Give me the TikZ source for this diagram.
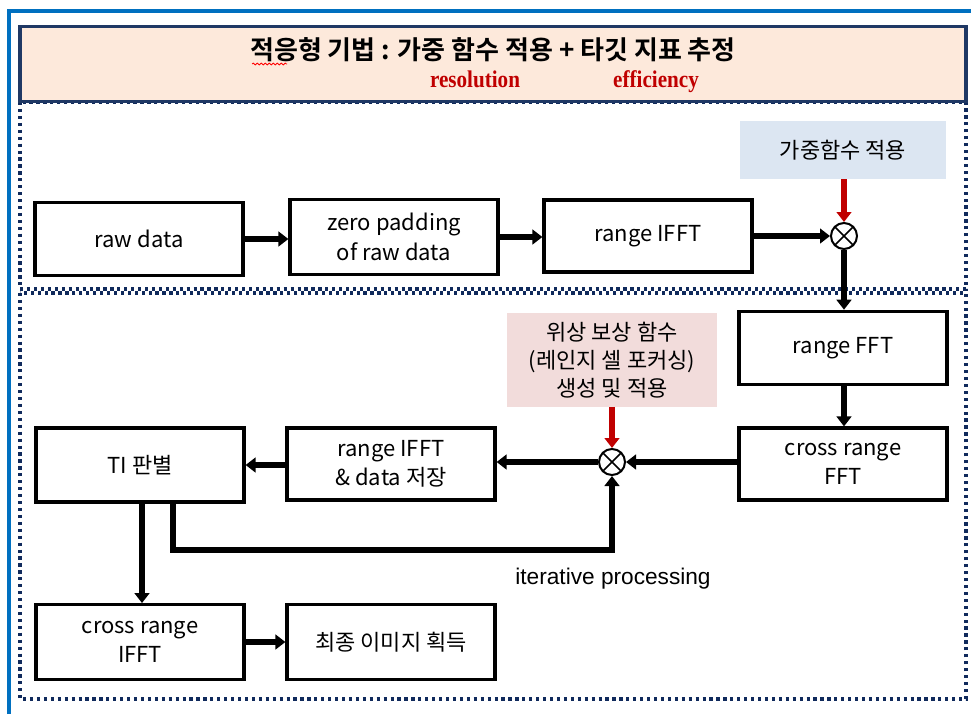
\documentclass[tikz,border=0pt]{standalone}
\usepackage{fontspec}
\setmainfont{Noto Sans CJK KR}[BoldFont={Noto Sans CJK KR Bold}]
\newfontfamily\arialfont{Liberation Sans}
\newfontfamily\timesfont{Liberation Serif}
\usetikzlibrary{arrows.meta,decorations.pathmorphing}

\definecolor{framefill}{HTML}{FDE9DB}
\definecolor{navy}{HTML}{1F3864}
\definecolor{dotnavy}{HTML}{102A5C}
\definecolor{outerblue}{HTML}{0070C0}
\definecolor{darkred}{HTML}{C00000}
\definecolor{weightfill}{HTML}{DCE6F2}
\definecolor{phasefill}{HTML}{F2DCDB}

\tikzset{
  stagebox/.style={draw, line width=2.4pt, fill=white, minimum width=156pt,
    minimum height=55pt, align=center, inner sep=0pt,
    font=\fontsize{16.5}{22}\selectfont},
  notebox/.style={fill=#1, align=center, inner sep=0pt,
    font=\fontsize{16.5}{21}\selectfont},
  flow/.style={line width=4.5pt, -{Triangle[length=7.5pt,width=11pt]}},
  redflow/.style={flow, draw=darkred},
  mult/.style={circle, draw, line width=1.5pt, minimum size=19.5pt, inner sep=0pt, fill=white,
    path picture={
      \draw[line width=1.2pt]
        ([xshift=-6.5pt,yshift=-6.5pt]path picture bounding box.center) --
        ([xshift=6.5pt,yshift=6.5pt]path picture bounding box.center)
        ([xshift=-6.5pt,yshift=6.5pt]path picture bounding box.center) --
        ([xshift=6.5pt,yshift=-6.5pt]path picture bounding box.center);}},
  dotframe/.style={draw=dotnavy, line width=2.8pt, dash pattern=on 2.4pt off 2.8pt},
  accent/.style={font=\timesfont\bfseries\fontsize{18}{18}\selectfont, text=darkred,
    inner sep=0pt, anchor=base}
}

\begin{document}
\begin{tikzpicture}[x=0.75pt,y=-0.75pt]
\useasboundingbox (0,0) rectangle (971,714);

% outer frame
\draw[outerblue, line width=2.4pt] (9,714) -- (9,11) -- (971,11);

% dotted regions
\draw[dotframe] (20,102) rectangle (966,289);
\draw[dotframe] (20,293) rectangle (966,699);

% header
\node[draw=navy, line width=2.6pt, fill=framefill, minimum width=709.5pt,
      minimum height=56pt, inner sep=0pt] (header) at (493,64) {};
\node[font=\fontsize{19.5}{20}\selectfont\bfseries, inner sep=0pt] (title) at (493,50)
  {적응형 기법 : 가중 함수 적용 + 타깃 지표 추정};
\draw[red, line width=0.6pt, decorate,
      decoration={snake, amplitude=0.7pt, segment length=3pt}] (252,64) -- (287,64);
\node[accent] (res) at (475,87) {\scalebox{0.88}[1]{resolution}};
\node[accent] (eff) at (656,87) {\scalebox{0.88}[1]{efficiency}};

% upper chain
\node[stagebox] (raw) at (139,239) {raw data};
\node[stagebox, minimum height=56pt] (zero) at (394,237) {zero padding\\of raw data};
\node[stagebox, minimum height=54pt] (rifft) at (648,236) {range IFFT};
\node[notebox=weightfill, minimum width=154.5pt, minimum height=43.5pt] (weight) at (843,150) {가중함수 적용};
\node[mult] (m1) at (844,236) {};

% right column
\node[stagebox] (rfft) at (843,348) {range FFT};
\node[stagebox, minimum height=54pt] (crfft) at (843,464) {cross range\\FFT};

% phase compensation
\node[notebox=phasefill, minimum width=157.5pt, minimum height=70pt] (phase) at (612,360)
  {위상 보상 함수\\(레인지 셀 포커싱)\\생성 및 적용};
\node[mult] (m2) at (612,462) {};

% lower chain
\node[stagebox, minimum height=54pt] (store) at (391,464) {range IFFT\\\& data 저장};
\node[stagebox, minimum height=55.5pt] (ti) at (140,465) {TI 판별};
\node[stagebox, minimum height=56pt] (crifft) at (140,642) {cross range\\IFFT};
\node[stagebox, minimum height=56pt] (final) at (391,642) {최종 이미지 획득};

\coordinate (loop) at (173,550);
\coordinate (down) at (142,502);
\node[font=\arialfont\fontsize{17}{18}\selectfont] (iter) at (613,579) {iterative processing};

% connectors
\draw[flow] (raw) -- (zero.west |- raw);
\draw[flow] (zero) -- (rifft.west |- zero);
\draw[flow] (rifft.east |- m1) -- (m1);
\draw[redflow] (weight.south -| m1) -- (m1);
\draw[flow] (m1) -- (rfft.north -| m1);
\draw[flow] (rfft.south -| m1) -- (crfft.north -| m1);
\draw[flow] (crfft.west |- m2) -- (m2);
\draw[redflow] (phase.south -| m2) -- (m2);
\draw[flow] (m2) -- (store.east |- m2);
\draw[flow] (store.west |- ti) -- (ti.east);
\draw[flow] (ti.south -| loop) -- (loop) -| (m2);
\draw[flow] (ti.south -| down) -- (crifft.north -| down);
\draw[flow] (crifft) -- (final);
\end{tikzpicture}
\end{document}
